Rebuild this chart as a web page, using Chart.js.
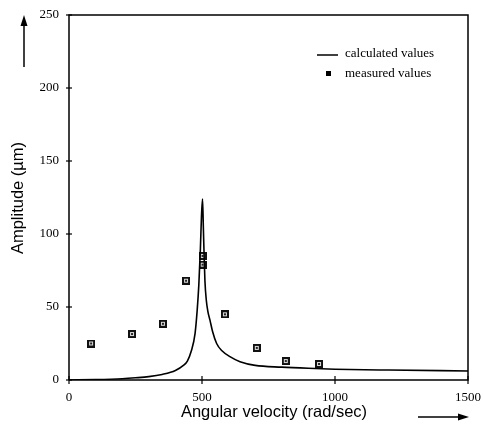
<!DOCTYPE html>
<html>
<head>
<meta charset="utf-8">
<script src="https://cdn.jsdelivr.net/npm/chart.js@4"></script>
<style>
  html, body { margin: 0; padding: 0; background: #fff; }
  #wrap { width: 483px; height: 433px; }
</style>
</head>
<body>
<div id="wrap"><canvas id="resChart" width="483" height="433"></canvas></div>
<script>
// berechnete Kurve (rad/sec, µm)
var calcX = [0, 100, 200, 250, 300, 350, 400, 430, 445, 460, 474, 482, 488, 494, 498, 502, 505, 508, 511, 516, 522, 530, 540, 555, 575, 605, 643, 700, 800, 900, 1000, 1200, 1500];
var calcY = [0, 0.3, 0.9, 1.5, 2.3, 3.8, 6.5, 10, 13, 20, 32, 48, 65, 90, 112, 124, 105, 85, 68, 55, 47, 41, 33, 25, 20, 16, 12.5, 10, 8.8, 8, 7.4, 6.8, 6.2];

// gemessene Werte
var measX = [83, 237, 353, 440, 502, 502, 586, 706, 815, 940];
var measY = [25, 31.5, 38.5, 68, 85, 79, 45, 22, 13, 11];

var xTicks = [0, 500, 1000, 1500];
var yTicks = [0, 50, 100, 150, 200, 250];

var serif = '"Liberation Serif", "DejaVu Serif", serif';
var sans = '"Liberation Sans", Arial, sans-serif';

// Marker: kleines Quadrat mit Punkt
function makeMarker() {
    var c = document.createElement('canvas');
    c.width = 8; c.height = 8;
    var g = c.getContext('2d');
    g.fillStyle = '#111';
    g.fillRect(0, 0, 8, 8);
    g.fillStyle = '#ddd';
    g.fillRect(2, 2, 4, 4);
    g.fillStyle = '#222';
    g.fillRect(3, 3, 2, 2);
    return c;
}

var calcPts = calcX.map(function(x, i) { return { x: x, y: calcY[i] }; });
var measPts = measX.map(function(x, i) { return { x: x, y: measY[i] }; });

var decor = {
    id: 'decor',
    afterDraw: function(chart) {
        var ctx = chart.ctx;
        var a = chart.chartArea;
        var xs = chart.scales.x, ys = chart.scales.y;
        ctx.save();
        ctx.strokeStyle = '#000';
        ctx.fillStyle = '#000';

        // Rahmen
        ctx.lineWidth = 1.5;
        ctx.beginPath();
        ctx.moveTo(a.left, a.bottom);
        ctx.lineTo(a.left, a.top);
        ctx.lineTo(a.right, a.top);
        ctx.lineTo(a.right, a.bottom);
        ctx.lineTo(a.left, a.bottom);
        ctx.stroke();

        // Ticks über die Achse
        ctx.lineWidth = 1.2;
        yTicks.forEach(function(v) {
            var py = ys.getPixelForValue(v);
            ctx.beginPath();
            ctx.moveTo(a.left - 3, py);
            ctx.lineTo(a.left + 3, py);
            ctx.stroke();
        });
        xTicks.forEach(function(v) {
            var px = xs.getPixelForValue(v);
            ctx.beginPath();
            ctx.moveTo(px, a.bottom - 4);
            ctx.lineTo(px, a.bottom + 4);
            ctx.stroke();
        });

        // Achsentitel
        ctx.font = '16.5px ' + sans;
        ctx.textAlign = 'center';
        ctx.textBaseline = 'middle';
        ctx.fillText('Angular velocity (rad/sec)', 274, 412);
        ctx.save();
        ctx.translate(18, 198);
        ctx.rotate(-Math.PI / 2);
        ctx.fillText('Amplitude (\u00b5m)', 0, 0);
        ctx.restore();

        // Pfeile
        ctx.lineWidth = 1.5;
        ctx.beginPath();
        ctx.moveTo(24, 67);
        ctx.lineTo(24, 24);
        ctx.stroke();
        ctx.beginPath();
        ctx.moveTo(24, 15);
        ctx.lineTo(20.5, 26);
        ctx.lineTo(27.5, 26);
        ctx.closePath();
        ctx.fill();

        ctx.beginPath();
        ctx.moveTo(418, 417);
        ctx.lineTo(460, 417);
        ctx.stroke();
        ctx.beginPath();
        ctx.moveTo(469, 417);
        ctx.lineTo(458, 413.5);
        ctx.lineTo(458, 420.5);
        ctx.closePath();
        ctx.fill();

        // Legende
        ctx.lineWidth = 1.5;
        ctx.beginPath();
        ctx.moveTo(317, 55);
        ctx.lineTo(338, 55);
        ctx.stroke();
        ctx.fillRect(326, 71, 5, 5);
        ctx.font = '13px ' + serif;
        ctx.textAlign = 'left';
        ctx.fillText(chart.data.datasets[0].label, 345, 54);
        ctx.fillText(chart.data.datasets[1].label, 345, 74);

        ctx.restore();
    }
};

var ctx = document.getElementById('resChart').getContext('2d');
new Chart(ctx, {
    type: 'scatter',
    data: {
        datasets: [{
            label: 'calculated values',
            data: calcPts,
            showLine: true,
            borderColor: '#000',
            borderWidth: 1.6,
            pointRadius: 0,
            cubicInterpolationMode: 'monotone',
            fill: false
        }, {
            label: 'measured values',
            data: measPts,
            showLine: false,
            pointStyle: makeMarker(),
            pointRadius: 4
        }]
    },
    plugins: [decor],
    options: {
        responsive: false,
        animation: false,
        layout: { padding: { top: 15, right: 15, left: 0, bottom: 0 } },
        plugins: {
            legend: { display: false },
            tooltip: { enabled: false }
        },
        scales: {
            x: {
                type: 'linear',
                min: 0,
                max: 1500,
                afterFit: function(s) { s.height = 53; s.paddingLeft = 0; s.paddingRight = 0; },
                afterBuildTicks: function(s) { s.ticks = xTicks.map(function(v) { return { value: v }; }); },
                grid: { display: false, drawTicks: false },
                border: { display: false },
                ticks: {
                    color: '#000', padding: 10, maxRotation: 0,
                    font: { family: serif, size: 13 },
                    callback: function(v) { return String(v); }
                }
            },
            y: {
                min: 0,
                max: 250,
                afterFit: function(s) { s.width = 69; s.paddingTop = 0; s.paddingBottom = 0; },
                afterBuildTicks: function(s) { s.ticks = yTicks.map(function(v) { return { value: v }; }); },
                grid: { display: false, drawTicks: false },
                border: { display: false },
                ticks: {
                    color: '#000', padding: 10,
                    font: { family: serif, size: 13 },
                    callback: function(v) { return String(v); }
                }
            }
        }
    }
});
</script>
</body>
</html>
